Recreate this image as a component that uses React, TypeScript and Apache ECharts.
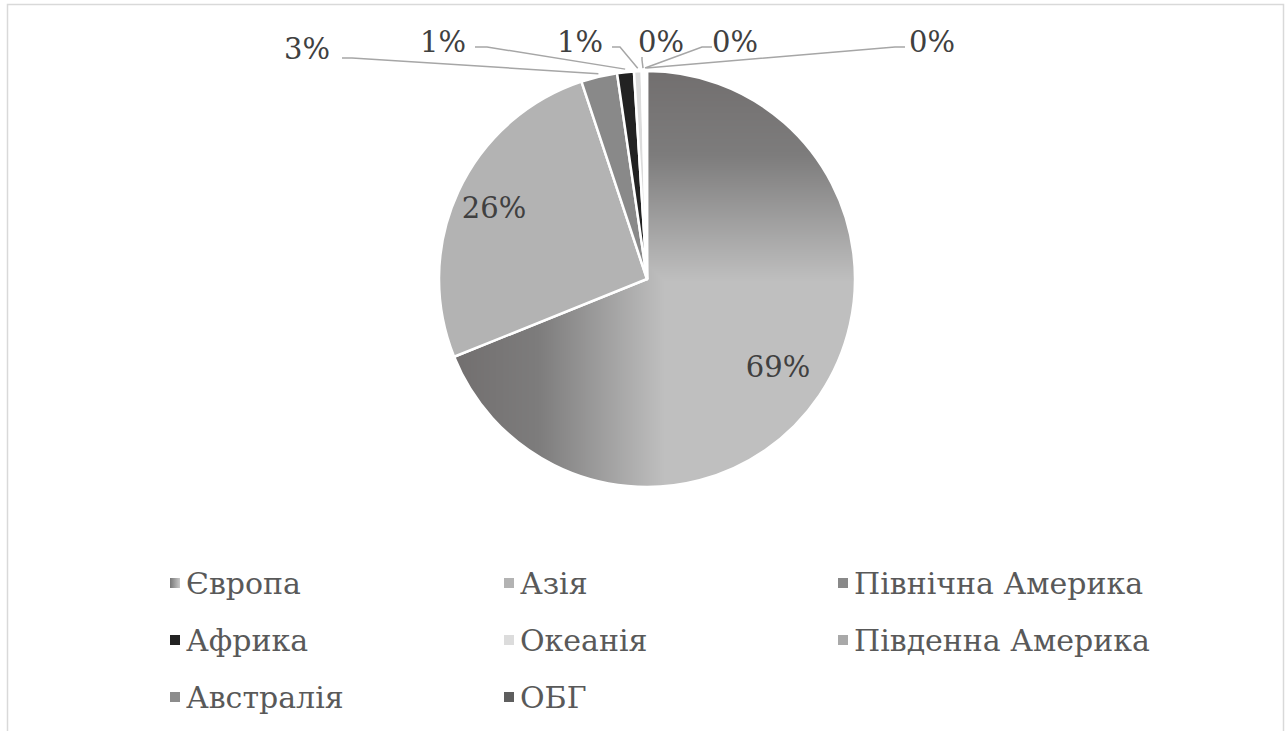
import React, { useEffect, useRef } from 'react';
import * as echarts from 'echarts';

// ---- data ----
const categories = ['Європа', 'Азія', 'Північна Америка', 'Африка', 'Океанія', 'Південна Америка', 'Австралія', 'ОБГ'];
const shares = [68.9, 26.0, 2.8, 1.3, 0.6, 0.2, 0.1, 0.1];
const sliceColors = ['', '#b3b3b3', '#898989', '#222222', '#dcdcdc', '#a9a9a9', '#8c8c8c', '#5e5e5e'];
const legendColumns = [
  ['Європа', 'Африка', 'Австралія'],
  ['Азія', 'Океанія', 'ОБГ'],
  ['Північна Америка', 'Південна Америка'],
];

// ---- layout ----
const W = 1288;
const H = 731;
const CX = 647;
const CY = 279;
const R = 208;
const FONT = "'DejaVu Serif', 'Liberation Serif', serif";
const insideFactor: Record<number, number> = { 0: 0.76, 1: 0.81 };
// outside labels: label centre, elbow and end of leader line
const outsideLayout: Record<number, { x: number; y: number; elbow: [number, number]; end: [number, number] }> = {
  2: { x: 307, y: 49, elbow: [352, 58], end: [342, 58] },
  3: { x: 443, y: 42, elbow: [487, 47], end: [475, 47] },
  4: { x: 580, y: 42, elbow: [620, 47], end: [612, 47] },
  5: { x: 661, y: 42, elbow: [642, 60], end: [642, 57] },
  6: { x: 735, y: 42, elbow: [702, 47], end: [712, 47] },
  7: { x: 932, y: 42, elbow: [895, 47], end: [905, 47] },
};
const legendLeft = [168, 502, 836];
const legendTop = 563;

function midAngle(i: number): number {
  const total = shares.reduce((a, b) => a + b, 0);
  let cum = 0;
  for (let k = 0; k < i; k++) cum += shares[k];
  return (2 * Math.PI * (cum + shares[i] / 2)) / total;
}

function makeEuropeFill(): HTMLCanvasElement {
  const size = Math.round(2 * R) + 4;
  const c = document.createElement('canvas');
  c.width = size;
  c.height = size;
  const ctx = c.getContext('2d')!;
  const img = ctx.createImageData(size, size);
  const stops: [number, number[]][] = [
    [0.5, [191, 191, 191]],
    [0.8, [125, 124, 124]],
    [1.0, [114, 111, 111]],
  ];
  const colorAt = (t: number) => {
    if (t <= stops[0][0]) return stops[0][1];
    for (let s = 1; s < stops.length; s++) {
      if (t <= stops[s][0]) {
        const [t0, c0] = stops[s - 1];
        const [t1, c1] = stops[s];
        const f = (t - t0) / (t1 - t0);
        return [0, 1, 2].map((j) => c0[j] + (c1[j] - c0[j]) * f);
      }
    }
    return stops[stops.length - 1][1];
  };
  for (let y = 0; y < size; y++) {
    for (let x = 0; x < size; x++) {
      const t = Math.max((size - x) / size, (size - y) / size);
      const col = colorAt(t);
      const o = (y * size + x) * 4;
      img.data[o] = col[0];
      img.data[o + 1] = col[1];
      img.data[o + 2] = col[2];
      img.data[o + 3] = 255;
    }
  }
  ctx.putImageData(img, 0, 0);
  return c;
}

export default function App() {
  const ref = useRef<HTMLDivElement>(null);
  useEffect(() => {
    document.body.style.margin = '0';
    const chart = echarts.init(ref.current!, null, { renderer: 'svg' });
    const europeFill = makeEuropeFill();
    const europeLegend = new echarts.graphic.LinearGradient(0, 0, 1, 0, [
      { offset: 0, color: '#6e6e6e' },
      { offset: 1, color: '#d2d2d2' },
    ]);

    const data = categories.map((name, i) => ({
      name,
      value: shares[i],
      itemStyle: {
        color:
          i === 0
            ? ({ image: europeFill, repeat: 'no-repeat', x: CX - R - 2, y: CY - R - 2 } as any)
            : sliceColors[i],
      },
      label: i < 2 ? { position: 'inside' } : { position: 'outside' },
      labelLine: { show: i >= 2 },
    }));

    const legends = legendColumns.map((col, ci) => ({
      orient: 'vertical',
      left: legendLeft[ci],
      top: legendTop,
      padding: 0,
      itemGap: 17,
      itemWidth: 12,
      itemHeight: 12,
      icon: 'rect',
      selectedMode: false,
      textStyle: { fontFamily: FONT, fontSize: 30, color: '#595959', lineHeight: 40 },
      data: col.map((name) =>
        name === 'Європа' ? { name, itemStyle: { color: europeLegend } } : { name }
      ),
    }));

    chart.setOption({
      animation: false,
      backgroundColor: '#ffffff',
      textStyle: { fontFamily: FONT },
      graphic: [
        {
          type: 'rect',
          shape: { x: 7.5, y: 4.5, width: 1276, height: 780 },
          style: { fill: 'none', stroke: '#d9d9d9', lineWidth: 1.5 },
          z: -1,
        },
      ],
      legend: legends,
      series: [
        {
          type: 'pie',
          center: [CX, CY],
          radius: R,
          startAngle: 90,
          clockwise: true,
          avoidLabelOverlap: false,
          silent: true,
          emphasis: { disabled: true },
          itemStyle: { borderColor: '#ffffff', borderWidth: 2.5 },
          label: {
            show: true,
            fontFamily: FONT,
            fontSize: 29,
            color: '#404040',
            formatter: (p: any) => Math.round(p.percent) + '%',
          },
          labelLine: {
            lineStyle: { color: '#a6a6a6', width: 1.5 },
            length: 10,
            length2: 10,
          },
          labelLayout: (params: any) => {
            const i = params.dataIndex;
            const a = midAngle(i);
            if (i in insideFactor) {
              const r = R * insideFactor[i];
              return {
                x: CX + r * Math.sin(a),
                y: CY - r * Math.cos(a),
                align: 'center',
                verticalAlign: 'middle',
              };
            }
            const L = outsideLayout[i];
            const rs = R + 3;
            const start = [CX + rs * Math.sin(a), CY - rs * Math.cos(a)];
            return {
              x: L.x,
              y: L.y,
              align: 'center',
              verticalAlign: 'middle',
              labelLinePoints: [start, L.elbow, L.end],
            };
          },
          data,
        },
      ],
    });
    return () => chart.dispose();
  }, []);
  return <div ref={ref} style={{ width: W, height: H }} />;
}
